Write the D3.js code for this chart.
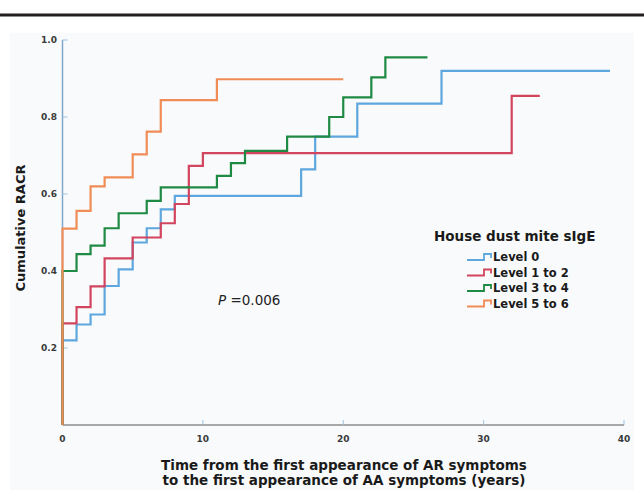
<!DOCTYPE html>
<html>
<head>
<meta charset="utf-8">
<script src="https://cdn.jsdelivr.net/npm/d3@7"></script>
<style>
  body { margin: 0; background: #fff; }
  svg { display: block; }
</style>
</head>
<body>
<div id="chart"></div>
<script>
// step data: time of each step (years) and the level reached
var level0Times = [0, 1, 2, 3, 4, 5, 6, 7, 8, 17, 18, 21, 27];
var level0Values = [0.22, 0.261, 0.287, 0.361, 0.404, 0.474, 0.511, 0.56, 0.595, 0.664, 0.749, 0.835, 0.92];
var level0End = 39;

var level12Times = [0, 1, 2, 3, 5, 7, 8, 9, 10, 32];
var level12Values = [0.264, 0.306, 0.36, 0.433, 0.487, 0.524, 0.574, 0.673, 0.706, 0.855];
var level12End = 34;

var level34Times = [0, 1, 2, 3, 4, 6, 7, 11, 12, 13, 16, 19, 20, 22, 23];
var level34Values = [0.40, 0.444, 0.466, 0.511, 0.55, 0.582, 0.617, 0.647, 0.68, 0.712, 0.749, 0.80, 0.851, 0.903, 0.955];
var level34End = 26;

var level56Times = [0, 1, 2, 3, 5, 6, 7, 11];
var level56Values = [0.51, 0.556, 0.62, 0.643, 0.703, 0.762, 0.844, 0.898];
var level56End = 20;

var legendLabels = ["Level 0", "Level 1 to 2", "Level 3 to 4", "Level 5 to 6"];
var colors = ["#5ea7de", "#d2455e", "#1f8a43", "#f08c55"];
var xTicks = [0, 10, 20, 30, 40];
var yTicks = [0.2, 0.4, 0.6, 0.8, 1.0];

var svgWidth = 644;
var svgHeight = 490;

var svg = d3.select("#chart")
    .append("svg")
    .attr("width", svgWidth)
    .attr("height", svgHeight);

// top rule and light panel
svg.append("rect")
    .attr("x", 10).attr("y", 33)
    .attr("width", 624).attr("height", 457)
    .attr("fill", "#f9fafc");

svg.append("line")
    .attr("x1", 0).attr("x2", svgWidth)
    .attr("y1", 15).attr("y2", 15)
    .attr("stroke", "#231f20")
    .attr("stroke-width", 3);

var x = d3.scaleLinear().domain([0, 40]).range([62.5, 624]);
var y = d3.scaleLinear().domain([0, 1]).range([425, 40]);

// x axis
svg.append("line")
    .attr("x1", x(0)).attr("x2", x(40))
    .attr("y1", y(0)).attr("y2", y(0))
    .attr("stroke", "#8c8c8c")
    .attr("stroke-width", 1.5);

svg.selectAll(".xtick")
    .data(xTicks.filter(d => d > 0))
    .enter()
    .append("line")
    .attr("x1", d => x(d)).attr("x2", d => x(d))
    .attr("y1", y(0)).attr("y2", y(0) - 5)
    .attr("stroke", "#9ec3e0")
    .attr("stroke-width", 1);

svg.selectAll(".xlabel")
    .data(xTicks)
    .enter()
    .append("text")
    .attr("x", d => x(d))
    .attr("y", 442)
    .attr("text-anchor", "middle")
    .attr("font-family", "DejaVu Sans")
    .attr("font-weight", "bold")
    .attr("font-size", "9px")
    .attr("fill", "#3a3a3a")
    .text(d => d);

// y axis
svg.append("line")
    .attr("x1", x(0)).attr("x2", x(0))
    .attr("y1", y(0)).attr("y2", y(1))
    .attr("stroke", "#7fa6c6")
    .attr("stroke-width", 1.5);

svg.selectAll(".ytick")
    .data(yTicks)
    .enter()
    .append("line")
    .attr("x1", x(0)).attr("x2", x(0) + 5)
    .attr("y1", d => y(d)).attr("y2", d => y(d))
    .attr("stroke", "#9ec3e0")
    .attr("stroke-width", 1);

svg.selectAll(".ylabel")
    .data(yTicks)
    .enter()
    .append("text")
    .attr("x", 57)
    .attr("y", d => y(d) + 3)
    .attr("text-anchor", "end")
    .attr("font-family", "DejaVu Sans")
    .attr("font-weight", "bold")
    .attr("font-size", "9px")
    .attr("fill", "#3a3a3a")
    .text(d => d.toFixed(1));

// step curves
var series = [
    {times: level0Times, values: level0Values, end: level0End},
    {times: level12Times, values: level12Values, end: level12End},
    {times: level34Times, values: level34Values, end: level34End},
    {times: level56Times, values: level56Values, end: level56End}
];

var line = d3.line()
    .x(d => x(d[0]))
    .y(d => y(d[1]))
    .curve(d3.curveStepAfter);

series.forEach(function(s, i) {
    var pts = [[0, 0]];
    s.times.forEach(function(t, j) { pts.push([t, s.values[j]]); });
    pts.push([s.end, s.values[s.values.length - 1]]);
    svg.append("path")
        .attr("d", line(pts))
        .attr("fill", "none")
        .attr("stroke", colors[i])
        .attr("stroke-width", 2.2);
});

// p value
var pText = svg.append("text")
    .attr("x", 218)
    .attr("y", 305)
    .attr("font-family", "DejaVu Sans")
    .attr("font-size", "13.5px")
    .attr("fill", "#222");
pText.append("tspan").attr("font-style", "italic").text("P");
pText.append("tspan").text(" =0.006");

// legend
svg.append("text")
    .attr("x", 434)
    .attr("y", 241)
    .attr("font-family", "DejaVu Sans")
    .attr("font-weight", "bold")
    .attr("font-size", "13.5px")
    .attr("fill", "#1a1a1a")
    .text("House dust mite sIgE");

var legend = svg.selectAll(".legend")
    .data(legendLabels)
    .enter()
    .append("g")
    .attr("transform", (d, i) => `translate(467, ${257 + i * 15.5})`);

legend.append("path")
    .attr("d", "M0,3 H17 V-3 H24 V1")
    .attr("fill", "none")
    .attr("stroke", (d, i) => colors[i])
    .attr("stroke-width", 1.8);

legend.append("text")
    .attr("x", 26)
    .attr("y", 4)
    .attr("font-family", "DejaVu Sans")
    .attr("font-weight", "bold")
    .attr("font-size", "11.5px")
    .attr("fill", "#1a1a1a")
    .text(d => d);

// axis titles
svg.append("text")
    .attr("transform", "translate(25, 228) rotate(-90)")
    .attr("text-anchor", "middle")
    .attr("font-family", "DejaVu Sans")
    .attr("font-weight", "bold")
    .attr("font-size", "13px")
    .attr("fill", "#1a1a1a")
    .text("Cumulative RACR");

svg.append("text")
    .attr("x", 344)
    .attr("y", 470)
    .attr("text-anchor", "middle")
    .attr("font-family", "DejaVu Sans")
    .attr("font-weight", "bold")
    .attr("font-size", "13.5px")
    .attr("fill", "#1a1a1a")
    .text("Time from the first appearance of AR symptoms");

svg.append("text")
    .attr("x", 344)
    .attr("y", 485)
    .attr("text-anchor", "middle")
    .attr("font-family", "DejaVu Sans")
    .attr("font-weight", "bold")
    .attr("font-size", "13.5px")
    .attr("fill", "#1a1a1a")
    .text("to the first appearance of AA symptoms (years)");
</script>
</body>
</html>
